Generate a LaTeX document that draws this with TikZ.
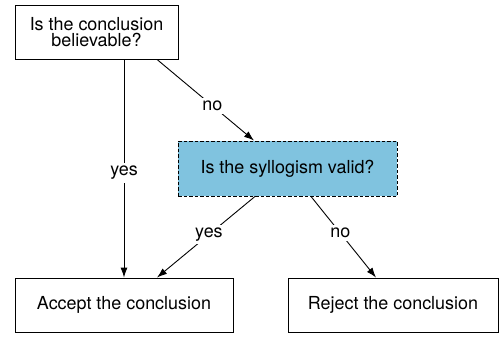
\documentclass[tikz,border=0pt]{standalone}
\usepackage{fontspec}
\setmainfont{TeX Gyre Heros}
\usetikzlibrary{arrows.meta}
\definecolor{validblue}{HTML}{80C3DF}

\begin{document}
\begin{tikzpicture}[x=1bp, y=1bp, >={Latex[length=10bp,width=7bp]},
    box/.style={draw, line width=0.9bp, align=center, inner sep=0pt,
        font=\fontsize{18}{16.5}\selectfont},
    answer/.style={fill=white, inner sep=3bp, font=\fontsize{18}{16.5}\selectfont},
    every path/.style={line width=0.9bp}]

    \useasboundingbox (0,0) rectangle (500,337);

    % boxes
    \node[box, minimum width=163bp, minimum height=54bp] (believe) at (96.5,305) {Is the conclusion\\believable?};
    \node[box, fill=validblue, dash pattern=on 3.5bp off 2bp, minimum width=219bp, minimum height=55bp] (valid) at (287.5,168.5) {Is the syllogism valid?};
    \node[box, minimum width=218bp, minimum height=54bp] (accept) at (124,32) {Accept the conclusion};
    \node[box, minimum width=210bp, minimum height=54bp] (reject) at (393,32) {Reject the conclusion};

    % answers
    \draw [->] (believe.south -| accept.north) -- node[answer, pos=0.52] {yes} (accept.north);
    \draw [->] ([xshift=60.5bp]believe.south) -- node[answer, pos=0.57] {no} ([xshift=-33.5bp]valid.north);
    \draw [->] ([xshift=-32.5bp]valid.south) -- node[answer, pos=0.47] {yes} ([xshift=33bp]accept.north);
    \draw [->] ([xshift=23.5bp]valid.south) -- node[answer, pos=0.45] {no} ([xshift=-17bp]reject.north);

\end{tikzpicture}
\end{document}
